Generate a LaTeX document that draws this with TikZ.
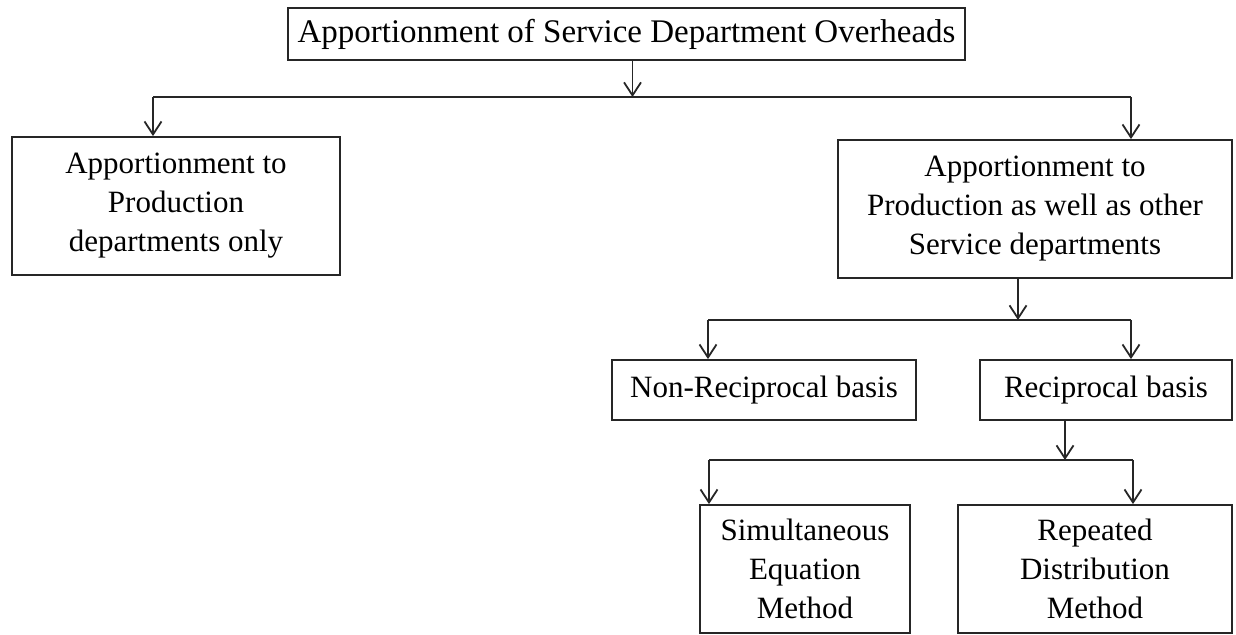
\documentclass[tikz,border=0pt]{standalone}
\usepackage{fontspec}
\setmainfont{Liberation Serif}
\usetikzlibrary{arrows.meta}
\tikzset{
  >={Straight Barb[length=6.5pt,width=8.5pt]},
  x=0.5pt, y=-0.5pt,
}
\tikzstyle{box}=[draw=black!85,line width=0.9pt,align=center,inner sep=2pt,
  font=\fontsize{15.5}{19.5}\selectfont]
\tikzstyle{link}=[draw=black!85,line width=0.9pt]

\begin{document}
\begin{tikzpicture}
    \useasboundingbox (0,0) rectangle (1236,635);
    \node[box,minimum width=338.5pt,minimum height=26pt,font=\fontsize{16.5}{19.5}\selectfont]
      (top) at (626.5,34) {Apportionment of Service Department Overheads};
    \node[box,minimum width=164pt,minimum height=69pt] (prod) at (176,206)
      {Apportionment to\\Production\\departments only};
    \node[box,minimum width=197pt,minimum height=69pt] (both) at (1035,209)
      {Apportionment to\\Production as well as other\\Service departments};
    \node[box,minimum width=152pt,minimum height=30pt] (nonrec) at (764,390)
      {Non-Reciprocal basis};
    \node[box,minimum width=126pt,minimum height=30pt] (rec) at (1106,390)
      {Reciprocal basis};
    \node[box,minimum width=105pt,minimum height=64pt] (simul) at (805,569)
      {Simultaneous\\Equation\\Method};
    \node[box,minimum width=137pt,minimum height=64pt] (repdist) at (1095,569)
      {Repeated\\Distribution\\Method};
    % first level
    \coordinate (barAl) at (153,97);
    \coordinate (barAr) at (1131,97);
    \draw[link,->] ([xshift=3pt]top.south) -- ([xshift=3pt]top.south |- barAl);
    \draw[link] (barAl) -- (barAr);
    \draw[link,->] (barAl) -- (barAl |- prod.north);
    \draw[link,->] (barAr) -- (barAr |- both.north);
    % second level
    \coordinate (barBl) at (708,320);
    \coordinate (barBr) at (1131,320);
    \draw[link,->] ([xshift=-8.5pt]both.south) -- ([xshift=-8.5pt]both.south |- barBl);
    \draw[link] (barBl) -- (barBr);
    \draw[link,->] (barBl) -- (barBl |- nonrec.north);
    \draw[link,->] (barBr) -- (barBr |- rec.north);
    % third level
    \coordinate (barCl) at (709,460);
    \coordinate (barCr) at (1133,460);
    \draw[link,->] ([xshift=-20.5pt]rec.south) -- ([xshift=-20.5pt]rec.south |- barCl);
    \draw[link] (barCl) -- (barCr);
    \draw[link,->] (barCl) -- (barCl |- simul.north);
    \draw[link,->] (barCr) -- (barCr |- repdist.north);
\end{tikzpicture}
\end{document}
